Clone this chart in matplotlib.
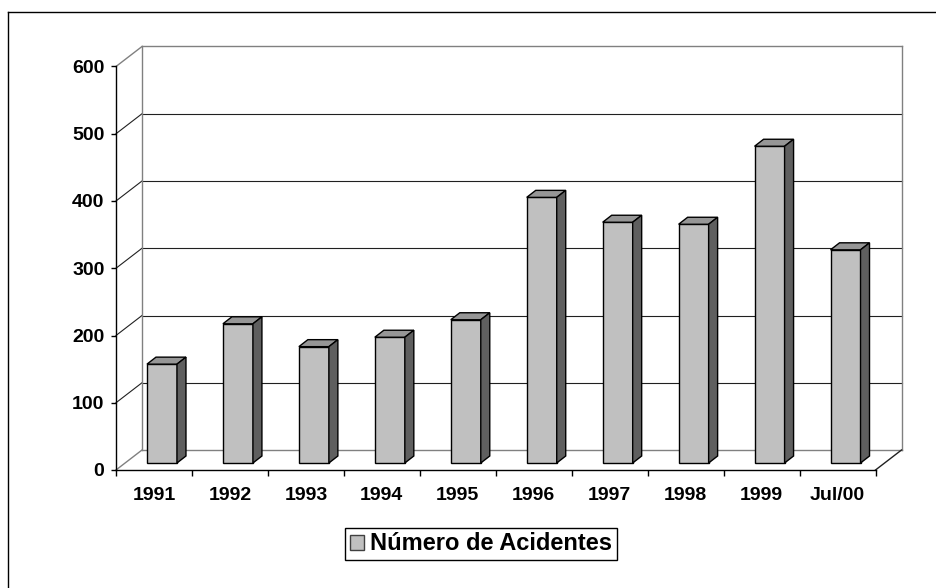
import numpy as np
import matplotlib
matplotlib.use("Agg")
import matplotlib.pyplot as plt
from matplotlib.patches import Polygon, Patch
from matplotlib.lines import Line2D

plt.rcParams['font.family'] = ['Liberation Sans', 'DejaVu Sans']
plt.rcParams['font.weight'] = 'bold'

categories = ['1991', '1992', '1993', '1994', '1995', '1996', '1997', '1998', '1999', 'Jul/00']
acidentes = [147, 207, 173, 187, 213, 395, 358, 355, 471, 317]
y_ticks = [0, 100, 200, 300, 400, 500, 600]
serie = 'Número de Acidentes'

W, H = 936, 588
fig = plt.figure(figsize=(W / 100, H / 100), dpi=100)

# front plane of the "3d" box, in pixels
left, right, top, bottom = 116, 875.5, 66.5, 470
ax = fig.add_axes([left / W, 1 - bottom / H, (right - left) / W, (bottom - top) / H])
n = len(categories)
ax.set_xlim(-0.5, n - 0.5)
ax.set_ylim(0, 600)

# pixel -> data units
ux = n / (right - left)
uy = 600 / (bottom - top)

wall_dx, wall_dy = 26 * ux, 20 * uy      # back wall offset
bar_dx, bar_dy = 8 * ux, 7 * uy          # bars sit a third of the way back
dep_dx, dep_dy = 9 * ux, 7 * uy          # bar depth
bw = 0.395

edge = '#808080'
x0, x1 = -0.5, n - 0.5

# back wall + left wall gridlines
for v in y_ticks:
    c = edge if v in (0, 600) else '#202020'
    lw = 1.0 if v in (0, 600) else 0.8
    ax.plot([x0 + wall_dx, x1 + wall_dx], [v + wall_dy, v + wall_dy], color=c, lw=lw, clip_on=False, zorder=1)
    ax.plot([x0, x0 + wall_dx], [v, v + wall_dy], color=c, lw=lw, clip_on=False, zorder=1)
ax.plot([x0 + wall_dx] * 2, [wall_dy, 600 + wall_dy], color=edge, lw=1, clip_on=False, zorder=1)
ax.plot([x1 + wall_dx] * 2, [wall_dy, 600 + wall_dy], color=edge, lw=1, clip_on=False, zorder=1)
ax.plot([x1, x1 + wall_dx], [0, wall_dy], color='#202020', lw=1, clip_on=False, zorder=1)

# bars
xs = np.arange(n) + bar_dx
ax.bar(xs, np.array(acidentes), width=bw, bottom=bar_dy, color='#C0C0C0',
       edgecolor='black', linewidth=1, zorder=3)
for x, v in zip(xs, acidentes):
    l, r = x - bw / 2, x + bw / 2
    t = v + bar_dy
    topf = Polygon([(l, t), (r, t), (r + dep_dx, t + dep_dy), (l + dep_dx, t + dep_dy)],
                   closed=True, facecolor='#969696', edgecolor='black', lw=1, zorder=3, clip_on=False)
    side = Polygon([(r, bar_dy), (r, t), (r + dep_dx, t + dep_dy), (r + dep_dx, bar_dy + dep_dy)],
                   closed=True, facecolor='#5F5F5F', edgecolor='black', lw=1, zorder=3, clip_on=False)
    ax.add_patch(topf)
    ax.add_patch(side)

# axes
for s in ('top', 'right'):
    ax.spines[s].set_visible(False)
for s in ('left', 'bottom'):
    ax.spines[s].set_color('black')
    ax.spines[s].set_linewidth(1)
    ax.spines[s].set_zorder(5)

ax.set_yticks(y_ticks)
ax.set_yticklabels([str(v) for v in y_ticks], fontsize=14, fontweight='bold')
ax.tick_params(axis='y', direction='out', length=3.8, width=1, pad=4.5)

ax.set_xticks(np.arange(n + 1) - 0.5)
ax.set_xticklabels([])
ax.set_xticks(np.arange(n), minor=True)
ax.set_xticklabels(categories, minor=True, fontsize=14, fontweight='bold')
ax.tick_params(axis='x', which='major', direction='out', length=4.3, width=1)
ax.tick_params(axis='x', which='minor', length=0, pad=12.5)
ax.patch.set_visible(False)

# legend
leg = fig.legend(handles=[Patch(facecolor='#C0C0C0', edgecolor='#404040', label=serie)],
                 loc='center', bbox_to_anchor=(481 / W, 1 - 544 / H),
                 prop={'size': 17, 'weight': 'bold'}, fancybox=False, framealpha=1,
                 handlelength=0.6, handleheight=0.6, handletextpad=0.25,
                 borderpad=0.2, borderaxespad=0)
leg.get_frame().set_edgecolor('black')
leg.get_frame().set_linewidth(1)

# chart frame
fig.add_artist(Line2D([8 / W, 8 / W], [0, 1 - 12 / H], color='black', lw=1, transform=fig.transFigure))
fig.add_artist(Line2D([8 / W, 1], [1 - 12 / H, 1 - 12 / H], color='black', lw=1, transform=fig.transFigure))

fig.savefig('out.png', dpi=100)
